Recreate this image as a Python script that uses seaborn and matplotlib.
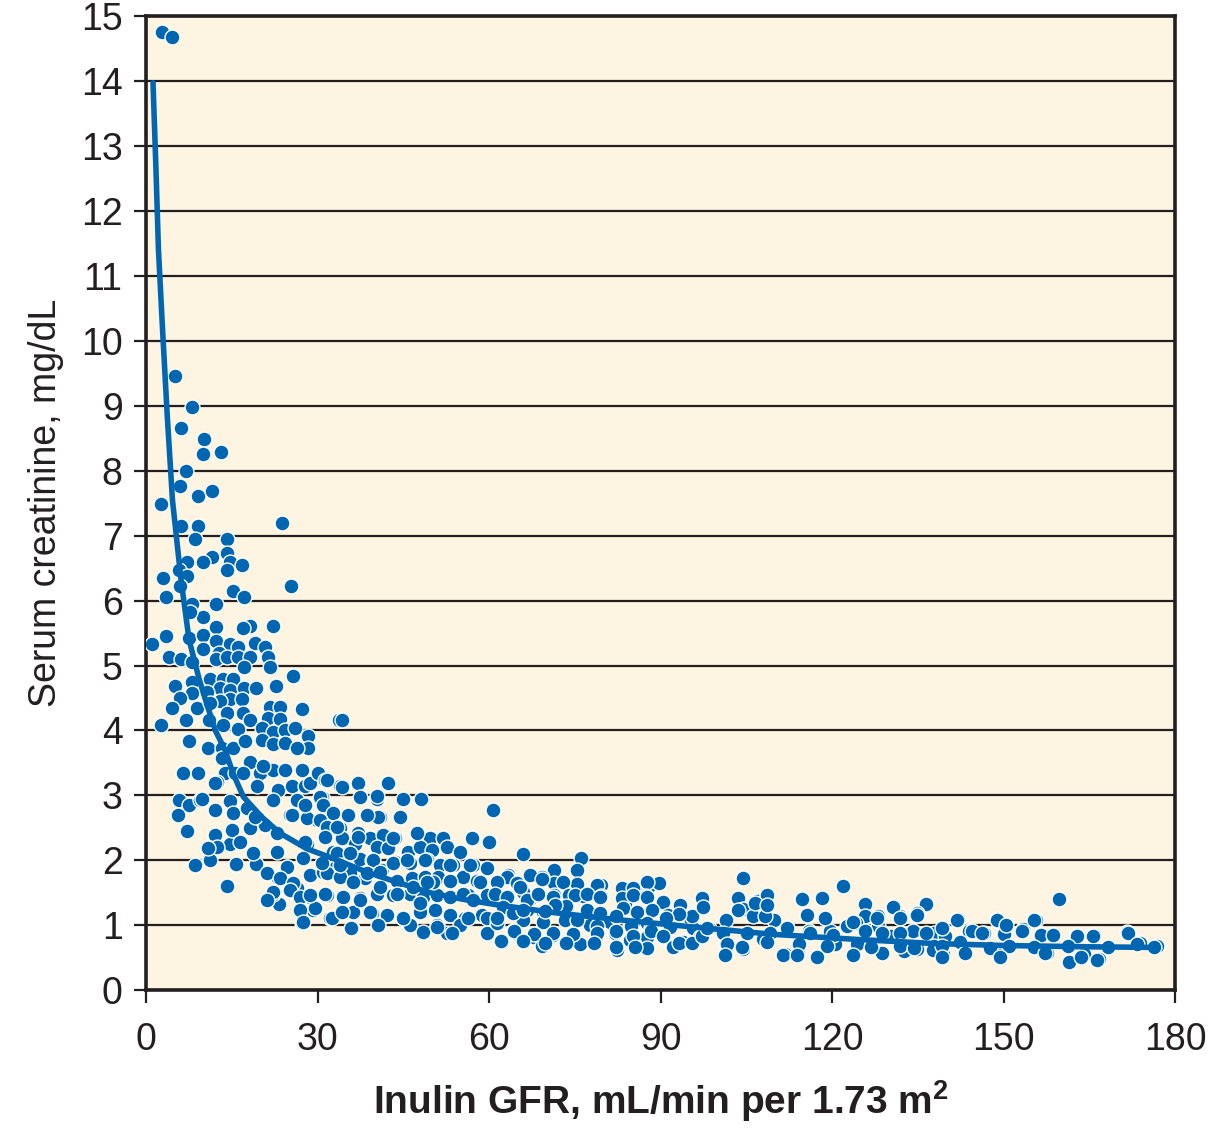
import pandas as pd
import numpy as np
import seaborn as sns
import matplotlib.pyplot as plt
import matplotlib
matplotlib.use('Agg')

# valeurs : (GFR inuline, creatinine serique)
points_gfr_lt30 = [
    (2.8, 14.75), (4.5, 14.67), (5.1, 9.46), (8.0, 8.98), (6.1, 8.66), (10.1, 8.49), (10.0, 8.26), (13.1, 8.29),
    (7.0, 8.0), (5.9, 7.77), (9.1, 7.61), (11.5, 7.69), (2.6, 7.49), (6.1, 7.15), (9.1, 7.15), (23.8, 7.2),
    (8.6, 6.95), (14.2, 6.95), (11.5, 6.67), (10.0, 6.6), (7.2, 6.6), (14.2, 6.73), (14.7, 6.6), (16.8, 6.55),
    (14.2, 6.47), (5.8, 6.47), (7.2, 6.38), (3.0, 6.35), (25.3, 6.22), (5.9, 6.22), (15.2, 6.15), (17.1, 6.06),
    (3.5, 6.06), (8.0, 5.95), (12.2, 5.95), (10.0, 5.75), (7.7, 5.82), (12.2, 5.59), (18.2, 5.61), (22.2, 5.61),
    (17.0, 5.58), (3.5, 5.45), (1.0, 5.33), (7.5, 5.42), (10.0, 5.47), (12.2, 5.38), (14.7, 5.33), (16.1, 5.28),
    (19.1, 5.35), (20.8, 5.28), (10.0, 5.25), (12.8, 5.19), (4.0, 5.13), (6.1, 5.1), (8.0, 5.05), (12.2, 5.1),
    (14.2, 5.13), (16.1, 5.13), (18.2, 5.13), (21.3, 5.13), (17.1, 4.98), (21.7, 4.98), (25.7, 4.84), (11.2, 4.8),
    (13.5, 4.8), (15.2, 4.8), (5.1, 4.68), (8.0, 4.75), (22.7, 4.68), (12.9, 4.65), (14.7, 4.63), (17.1, 4.65),
    (19.2, 4.65), (8.0, 4.57), (10.7, 4.6), (5.9, 4.5), (14.7, 4.48), (16.8, 4.48), (12.9, 4.46), (4.5, 4.35),
    (8.9, 4.35), (11.2, 4.42), (21.7, 4.36), (23.4, 4.36), (27.3, 4.33), (14.2, 4.27), (17.0, 4.27), (18.2, 4.16),
    (21.3, 4.19), (23.4, 4.17), (2.6, 4.08), (7.0, 4.16), (11.0, 4.16), (13.5, 4.08), (16.1, 4.02), (20.3, 4.04),
    (22.2, 3.98), (24.3, 4.0), (26.0, 4.04), (28.3, 3.91), (7.5, 3.84), (10.8, 3.73), (13.3, 3.73), (15.2, 3.73),
    (17.3, 3.84), (20.3, 3.85), (22.2, 3.79), (24.3, 3.8), (28.3, 3.73), (26.4, 3.73), (18.2, 3.51), (13.3, 3.57),
    (6.5, 3.34), (9.1, 3.34), (13.8, 3.35), (15.6, 3.35), (17.0, 3.35), (19.9, 3.35), (22.2, 3.39), (24.3, 3.39),
    (27.3, 3.39), (12.4, 3.2), (20.5, 3.46), (19.4, 3.14), (23.1, 3.08), (25.5, 3.14), (27.8, 3.14), (5.8, 2.93),
    (7.5, 2.85), (9.4, 2.93), (12.1, 2.77), (14.7, 2.91), (15.2, 2.73), (17.7, 2.8), (19.4, 2.67), (20.8, 2.54),
    (22.9, 2.42), (5.6, 2.7), (7.2, 2.45), (8.6, 1.93), (11.0, 2.02), (14.2, 1.6), (15.7, 1.93), (19.2, 1.94),
    (21.3, 1.8), (23.1, 1.73), (23.3, 1.33), (22.2, 1.49), (24.6, 1.9), (27.3, 1.03), (29.2, 1.23), (28.8, 1.43),
    (28.8, 1.77), (26.4, 1.57), (12.1, 3.19), (9.8, 2.94), (12.1, 2.39), (14.7, 2.26), (15.0, 2.47), (16.4, 2.28),
    (18.2, 2.5), (19.1, 2.67), (22.2, 2.93), (25.2, 2.7), (26.4, 2.93), (28.1, 2.67), (29.9, 2.62), (28.1, 2.26),
    (11.2, 2.19), (11.2, 2.0), (15.7, 1.94), (22.9, 2.13), (24.7, 1.9), (27.4, 2.03), (28.7, 1.77), (21.2, 1.8),
    (23.4, 1.73), (25.7, 1.65), (22.2, 1.51), (25.2, 1.54), (28.7, 1.43), (25.5, 2.7), (28.1, 2.65), (18.7, 2.11),
    (12.4, 2.2), (10.8, 2.19), (21.2, 1.39), (26.9, 1.43), (26.9, 1.23), (27.8, 2.85), (28.7, 3.19), (27.4, 1.05),
    (29.5, 1.26), (27.8, 2.28), (28.7, 1.46),
]

points_gfr_30_60 = [
    (33.8, 4.16), (34.3, 4.16), (30.1, 3.34), (31.3, 3.24), (33.9, 3.14), (37.1, 3.19), (42.3, 3.19), (30.8, 2.97),
    (37.4, 2.97), (40.4, 2.94), (44.9, 2.94), (48.1, 2.94), (34.3, 3.13), (31.6, 3.24), (40.4, 2.99), (30.4, 2.97),
    (30.9, 2.85), (32.7, 2.73), (35.3, 2.7), (38.8, 2.7), (40.9, 2.67), (44.4, 2.67), (30.4, 2.62), (31.6, 2.51),
    (33.9, 2.5), (37.1, 2.42), (39.2, 2.34), (41.4, 2.39), (43.5, 2.34), (47.6, 2.42), (49.7, 2.34), (51.9, 2.34),
    (57.0, 2.33), (31.3, 2.36), (34.3, 2.34), (36.5, 2.26), (40.4, 2.2), (42.3, 2.19), (45.8, 2.13), (47.9, 2.2),
    (50.0, 2.16), (52.6, 2.2), (54.9, 2.13), (32.7, 2.13), (35.3, 2.11), (37.4, 2.02), (39.5, 2.0), (43.5, 1.97),
    (46.2, 1.96), (49.1, 2.0), (51.4, 1.93), (53.7, 1.93), (57.2, 1.93), (59.6, 1.88), (30.9, 1.82), (33.0, 1.88),
    (35.7, 1.8), (38.3, 1.73), (41.3, 1.85), (43.9, 1.69), (46.5, 1.73), (48.8, 1.74), (51.0, 1.74), (53.1, 1.69),
    (55.4, 1.74), (57.9, 1.69), (31.6, 1.46), (34.4, 1.43), (37.4, 1.42), (40.4, 1.49), (43.2, 1.46), (46.2, 1.49),
    (48.4, 1.43), (50.9, 1.46), (53.1, 1.43), (56.3, 1.46), (59.6, 1.46), (32.2, 1.12), (36.2, 1.2), (39.5, 1.19),
    (42.1, 1.16), (44.9, 1.12), (47.9, 1.2), (50.5, 1.23), (53.1, 1.16), (55.8, 1.12), (58.7, 1.16), (36.0, 0.96),
    (40.6, 1.0), (46.2, 1.0), (50.9, 1.0), (52.6, 0.89), (54.9, 1.0), (59.6, 0.88), (32.5, 1.12), (35.8, 0.96),
    (34.3, 1.2), (31.3, 1.49), (37.4, 1.39), (39.2, 1.2), (44.9, 1.11), (47.9, 1.34), (48.4, 0.9), (50.9, 0.97),
    (53.5, 0.88), (56.3, 1.11), (57.0, 2.34), (60.0, 2.28), (47.4, 2.42), (43.2, 2.34), (40.6, 2.67), (38.6, 2.7),
    (33.4, 2.51), (37.1, 2.36), (33.4, 2.11), (35.7, 2.11), (39.7, 2.0), (43.2, 1.96), (45.6, 2.0), (48.8, 2.0),
    (53.1, 1.93), (56.6, 1.93), (58.4, 1.66), (50.2, 1.66), (53.1, 1.69), (55.4, 1.49), (57.2, 1.39), (59.6, 1.12),
    (40.9, 1.59), (43.9, 1.49), (46.7, 1.59), (49.1, 1.66), (31.6, 1.8), (33.9, 1.74), (36.2, 1.66), (38.6, 1.8),
    (40.9, 1.82), (30.8, 1.96), (33.9, 1.93),
]

points_gfr_60_100 = [
    (60.7, 2.77), (65.9, 2.1), (76.0, 2.03), (71.4, 1.86), (75.4, 1.86), (63.3, 1.78), (67.3, 1.78), (69.3, 1.74),
    (63.1, 1.74), (67.1, 1.77), (71.4, 1.65), (75.4, 1.63), (79.5, 1.62), (83.3, 1.58), (85.6, 1.58), (87.9, 1.61),
    (89.8, 1.65), (69.2, 1.71), (72.9, 1.66), (78.8, 1.62), (85.1, 1.57), (87.6, 1.66), (61.4, 1.66), (64.9, 1.65),
    (63.3, 1.45), (67.3, 1.42), (71.4, 1.47), (73.9, 1.46), (76.5, 1.45), (79.5, 1.45), (83.7, 1.35), (87.5, 1.45),
    (61.0, 1.49), (63.1, 1.43), (65.9, 1.51), (68.4, 1.46), (71.2, 1.43), (75.0, 1.46), (77.1, 1.49), (79.4, 1.43),
    (83.2, 1.42), (85.1, 1.46), (87.6, 1.43), (90.4, 1.36), (93.4, 1.31), (97.2, 1.42), (62.4, 1.28), (66.6, 1.23),
    (69.4, 1.2), (73.6, 1.28), (77.1, 1.23), (79.4, 1.19), (83.4, 1.26), (85.8, 1.2), (88.5, 1.23), (91.3, 1.16),
    (95.1, 1.12), (97.4, 1.26), (61.4, 1.03), (65.9, 1.08), (69.4, 1.05), (73.3, 1.08), (77.6, 1.0), (81.1, 1.05),
    (84.6, 1.0), (87.6, 1.03), (91.6, 0.97), (95.6, 0.96), (62.2, 0.74), (64.5, 0.88), (67.7, 0.82), (71.2, 0.85),
    (74.7, 0.82), (78.8, 0.85), (82.0, 0.89), (84.6, 0.77), (87.6, 0.82), (90.4, 0.82), (93.9, 0.74), (96.9, 0.82),
    (69.2, 0.69), (75.9, 0.72), (82.3, 0.62), (87.6, 0.65), (92.1, 0.66), (64.2, 0.92), (65.4, 1.59), (66.6, 1.39),
    (68.5, 1.49), (64.2, 1.19), (65.9, 1.23), (61.4, 1.12), (97.3, 1.42), (95.5, 1.14), (93.2, 1.17), (90.9, 1.12),
    (88.3, 0.96), (84.8, 0.99), (82.2, 1.14), (78.8, 0.99), (75.4, 1.09), (73.5, 1.3), (71.6, 1.32), (69.7, 1.22),
    (64.4, 0.91), (67.8, 0.86), (71.2, 0.89), (74.6, 0.86), (78.8, 0.88), (82.2, 0.91), (85.2, 0.84), (88.3, 0.91),
    (90.5, 0.84), (93.2, 0.73), (95.5, 0.73), (97.3, 0.84), (62.1, 0.76), (65.9, 0.76), (69.7, 0.73), (73.5, 0.73),
    (78.4, 0.73), (82.2, 0.66), (85.6, 0.66), (98.5, 0.96), (97.4, 1.28), (98.1, 0.96),
]

points_gfr_gt100 = [
    (104.5, 1.73), (122.0, 1.61), (159.7, 1.41), (103.6, 1.42), (106.8, 1.37), (108.7, 1.47), (114.8, 1.42),
    (118.2, 1.42), (125.8, 1.33), (130.9, 1.3), (136.4, 1.33), (134.8, 1.19), (131.8, 1.14), (128.0, 1.14),
    (125.8, 1.14), (142.0, 1.1), (148.9, 1.1), (155.7, 1.09), (146.6, 0.89), (153.4, 0.94), (156.4, 0.84),
    (158.7, 0.85), (162.9, 0.85), (165.9, 0.85), (171.6, 0.9), (173.9, 0.73), (176.9, 0.68), (161.7, 0.44),
    (166.7, 0.48), (164.0, 0.56), (137.9, 0.89), (139.8, 0.84), (143.9, 0.91), (150.0, 0.86), (137.9, 0.63),
    (143.2, 0.58), (149.2, 0.55), (157.6, 0.58), (134.1, 0.91), (130.3, 0.84), (128.0, 0.99), (124.2, 1.04),
    (122.7, 0.99), (119.7, 0.91), (115.9, 0.91), (112.1, 0.96), (109.8, 1.09), (104.5, 1.25), (106.1, 1.14),
    (108.3, 1.14), (101.5, 1.09), (101.5, 0.71), (104.5, 0.63), (107.9, 0.79), (111.7, 0.56), (114.0, 0.58),
    (117.4, 0.53), (120.5, 0.71), (123.9, 0.56), (126.9, 0.68), (128.8, 0.58), (132.6, 0.61), (134.8, 0.63),
    (137.9, 0.68), (139.4, 0.56), (108.6, 1.46), (114.7, 1.4), (130.6, 1.28), (103.5, 1.23), (106.5, 1.34),
    (108.6, 1.31), (115.6, 1.16), (118.7, 1.12), (123.6, 1.05), (127.8, 1.12), (131.8, 1.11), (134.8, 1.16),
    (100.9, 0.89), (105.2, 0.89), (109.1, 0.88), (112.1, 0.96), (116.1, 0.88), (120.1, 0.85), (125.7, 0.92),
    (128.7, 0.89), (131.8, 0.88), (136.5, 0.89), (101.6, 0.72), (104.2, 0.66), (108.6, 0.74), (114.3, 0.72),
    (119.1, 0.69), (124.3, 0.72), (126.9, 0.66), (131.8, 0.69), (134.4, 0.65), (137.6, 0.62), (101.2, 0.54),
    (111.4, 0.54), (113.8, 0.54), (117.3, 0.51), (123.6, 0.54), (141.8, 1.09), (148.8, 1.09), (155.4, 1.08),
    (139.2, 0.96), (144.4, 0.92), (146.3, 0.88), (150.5, 1.0), (153.3, 0.92), (156.6, 0.85), (158.6, 0.85),
    (162.8, 0.83), (165.6, 0.83), (171.7, 0.88), (139.2, 0.69), (142.3, 0.74), (147.6, 0.65), (151.0, 0.69),
    (155.4, 0.66), (161.2, 0.69), (168.2, 0.66), (173.4, 0.72), (176.4, 0.66), (139.2, 0.51), (143.2, 0.57),
    (149.3, 0.51), (157.2, 0.57), (161.5, 0.43), (163.6, 0.51), (166.4, 0.46),
]

# courbe ajustee, lue point par point
curve_gfr = [1.2, 1.7, 2.15, 2.9, 3.7, 4.6, 6.1, 7.5, 9.3, 10.4, 12.1, 13.8, 15.2, 17.0, 20.2, 23.4, 28.1,
             32.7, 38.6, 44.4, 50.2, 56.1, 61.9, 71.9, 83.4, 95.1, 110, 125, 138, 150, 165, 177]
curve_cr = [13.97, 12.68, 11.4, 10.12, 8.83, 7.55, 6.32, 5.4, 4.78, 4.47, 4.0, 3.7, 3.34, 2.98, 2.67, 2.42, 2.18,
            2.03, 1.82, 1.65, 1.49, 1.39, 1.31, 1.19, 1.08, 0.98, 0.86, 0.78, 0.72, 0.69, 0.67, 0.66]

x_ticks = [0, 30, 60, 90, 120, 150, 180]
y_ticks = list(range(0, 16))

all_points = points_gfr_lt30 + points_gfr_30_60 + points_gfr_60_100 + points_gfr_gt100
df = pd.DataFrame(all_points, columns=['gfr', 'creat'])

sns.set_style('ticks')
plt.rcParams['font.family'] = ['Liberation Sans', 'DejaVu Sans']
plt.rcParams['mathtext.fontset'] = 'custom'
plt.rcParams['mathtext.rm'] = 'Liberation Sans'
plt.rcParams['mathtext.bf'] = 'Liberation Sans:bold'

dark = '#231f20'
blue = '#0066b1'

fig, ax = plt.subplots(figsize=(12.18, 11.37), dpi=100)
fig.subplots_adjust(left=0.12, right=0.9647, top=0.986, bottom=0.129)
ax.set_facecolor('#fdf4e2')

sns.scatterplot(data=df, x='gfr', y='creat', ax=ax, color=blue, s=115,
                edgecolor='white', linewidth=1.0, zorder=3)
sns.lineplot(x=curve_gfr, y=curve_cr, ax=ax, sort=False, color=blue, lw=4.0, zorder=4)

ax.set_xlim(0, 180)
ax.set_ylim(0, 15)
ax.set_xticks(x_ticks)
ax.set_yticks(y_ticks)
ax.yaxis.grid(True, color=dark, lw=1.6)
ax.xaxis.grid(False)
ax.set_axisbelow(True)

for s in ax.spines.values():
    s.set_linewidth(2.6)
    s.set_color(dark)

ax.tick_params(axis='both', labelsize=27, colors=dark, length=9, width=1.6, pad=8)
ax.tick_params(axis='x', pad=14)

ax.set_xlabel(r'Inulin GFR, mL/min per 1.73 m$^{\mathbf{2}}$', fontsize=28, fontweight='bold',
              color=dark, labelpad=14)
ax.set_ylabel('Serum creatinine, mg/dL', fontsize=27, color=dark, labelpad=12)

plt.savefig('out.png', dpi=100)
